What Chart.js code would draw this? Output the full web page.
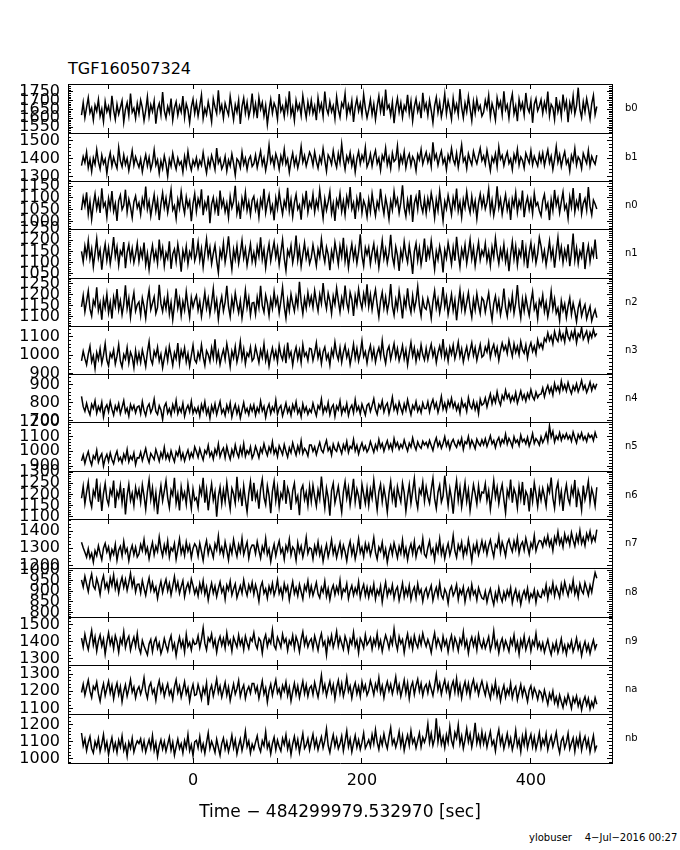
<!DOCTYPE html>
<html>
<head>
<meta charset="utf-8">
<script src="https://cdn.jsdelivr.net/npm/chart.js@4.4.1/dist/chart.umd.min.js"></script>
<style>
html, body { margin: 0; padding: 0; background: #fff; }
#page { position: relative; width: 680px; height: 850px; overflow: hidden; font-family: "DejaVu Sans", sans-serif; }
#page canvas { position: absolute; left: 0; }
.txt { position: absolute; white-space: nowrap; color: #000; line-height: normal; }
</style>
</head>
<body>
<div id="page">
  <div class="txt" style="left:68px; top:59px; font-size:16px;">TGF160507324</div>
  <div class="txt" style="left:529px; top:832px; font-size:10px;">ylobuser&nbsp;&nbsp;&nbsp;&nbsp;4−Jul−2016 00:27</div>
</div>
<script>
// light curves, one 2 s bin per value, starting at t = -132 s
var binStart = -132;
var binWidth = 2;

var rateB0 = [
 1618,1689,1603,1662,1717,1631,1659,1590,1674,1640,1706,1612,1653,1581,1695,1637,1668,1609,1728,1646,1594,1679,1623,1661,1700,1578,1650,1688,1615,1741,1634,1657,1599,1683,
 1626,1703,1660,1587,1645,1722,1611,1676,1638,1698,1569,1652,1684,1620,1749,1643,1602,1667,1631,1712,1590,1659,1694,1617,1671,1636,1726,1605,1682,1648,1575,1664,1709,1628,
 1687,1612,1670,1733,1598,1656,1621,1693,1644,1580,1711,1663,1627,1759,1640,1675,1601,1685,1649,1619,1724,1658,1592,1677,1635,1702,1568,1666,1715,1630,1690,1609,1654,1741,
 1625,1681,1600,1718,1652,1690,1614,1673,1564,1645,1707,1629,1686,1659,1595,1738,1641,1669,1610,1697,1637,1754,1620,1664,1587,1701,1648,1679,1616,1728,1661,1604,1692,1634,
 1702,1628,1669,1589,1716,1645,1683,1611,1752,1656,1624,1694,1638,1671,1597,1722,1650,1606,1687,1663,1740,1615,1676,1633,1699,1579,1664,1711,1641,1685,1620,1735,1658,1603,
 1649,1706,1622,1681,1593,1668,1727,1640,1699,1613,1764,1655,1675,1618,1692,1572,1661,1714,1634,1688,1606,1672,1645,1733,1627,1696,1585,1666,1710,1639,1679,1600,1745,1652,
 1684,1617,1703,1644,1575,1671,1719,1632,1690,1608,1659,1738,1626,1697,1651,1594,1713,1640,1680,1620,1766,1662,1603,1686,1637,1724,1655,1586,1694,1629,1707,1648,1672,1612,
 1634,1701,1658,1729,1610,1684,1645,1590,1716,1663,1695,1621,1754,1649,1677,1601,1690,1738,1626,1670,1583,1708,1652,1687,1619,1744,1661,1635,1698,1574,1680,1712,1643,1668,
 1705,1628,1691,1647,1752,1615,1679,1660,1593,1720,1638,1684,1611,1735,1656,1697,1578,1688,1642,1727,1625,1671,1774,1650,1604,1693,1636,1712,1659,1597,1683,1730,1621,1667
];
var rateB1 = [
 1361,1412,1378,1437,1350,1396,1328,1404,1369,1451,1383,1342,1419,1372,1397,1316,1390,1433,1359,1408,1374,1346,1462,1388,1355,1421,1367,1401,1334,1386,1445,1363,1410,1379,
 1352,1398,1327,1381,1422,1360,1407,1339,1376,1449,1364,1393,1318,1387,1345,1416,1371,1302,1395,1358,1430,1378,1341,1403,1366,1384,1325,1412,1357,1441,1373,1336,1391,1362,
 1405,1347,1389,1363,1434,1371,1320,1396,1355,1418,1382,1339,1459,1376,1401,1343,1367,1413,1331,1392,1359,1426,1374,1308,1399,1385,1350,1437,1368,1402,1340,1394,1414,1357,
 1372,1420,1351,1397,1443,1366,1404,1335,1389,1475,1380,1409,1357,1427,1394,1342,1415,1376,1452,1369,1399,1324,1386,1431,1363,1406,1348,1392,1468,1381,1417,1359,1398,1436,
 1412,1363,1438,1385,1347,1409,1376,1456,1392,1330,1421,1401,1369,1445,1387,1352,1429,1378,1482,1396,1340,1414,1383,1434,1361,1407,1325,1399,1440,1371,1418,1389,1463,1354,
 1380,1427,1359,1412,1446,1373,1403,1336,1419,1391,1460,1366,1408,1345,1431,1384,1397,1471,1355,1415,1378,1439,1349,1400,1426,1362,1411,1389,1333,1423,1394,1452,1370,1406,
 1436,1381,1418,1357,1492,1399,1425,1364,1410,1444,1375,1403,1339,1421,1388,1457,1396,1368,1430,1352,1413,1478,1384,1407,1346,1428,1393,1366,1441,1401,1372,1417,1459,1390,
 1415,1370,1447,1392,1334,1408,1381,1428,1356,1466,1397,1419,1362,1405,1437,1374,1399,1340,1423,1387,1453,1364,1410,1391,1348,1431,1402,1376,1444,1367,1413,1385,1359,1426,
 1383,1431,1362,1408,1449,1377,1414,1340,1396,1468,1380,1422,1356,1405,1439,1371,1395,1332,1418,1386,1457,1365,1410,1392,1345,1429,1401,1374,1446,1360,1413,1388,1369,1420
];
var rateN0 = [
 1048,1103,1066,1124,1031,1085,1009,1072,1117,1054,1092,1036,1141,1063,1080,1019,1098,1058,1129,1044,1076,1002,1089,1112,1051,1069,1135,1040,1094,1061,1016,1083,1108,1057,
 1079,1030,1097,1065,1148,1052,1086,1023,1070,1114,1045,1091,1006,1074,1121,1059,1099,1038,1082,1135,1049,1067,1013,1093,1056,1127,1071,1034,1104,1062,1087,1001,1075,1118,
 1043,1096,1068,1137,1027,1081,1055,1110,993,1073,1102,1046,1088,1024,1131,1064,1092,1041,1077,1018,1106,1058,1085,1152,1035,1072,1011,1098,1060,1123,1047,1084,1029,1090,
 1107,1050,1083,1019,1094,1063,1139,1037,1078,1111,1042,1069,1005,1099,1056,1125,1074,1031,1087,1060,1143,1045,1093,1021,1080,1115,1052,1070,1008,1101,1066,1130,1039,1082,
 1061,1116,1040,1089,1057,1134,1072,1014,1095,1048,1083,1127,1035,1076,1002,1091,1064,1119,1043,1086,1028,1105,1069,1146,1053,1079,1011,1097,1058,1124,1037,1088,1066,1020,
 1093,1041,1118,1067,1025,1084,1056,1139,1074,1032,1100,1063,1010,1087,1049,1127,1071,1096,1036,1081,1154,1060,1022,1090,1045,1113,998,1077,1105,1052,1133,1068,1039,1095,
 1035,1098,1057,1120,1080,1016,1092,1047,1128,1066,1003,1085,1054,1111,1073,1029,1100,1061,1140,1044,1082,1019,1094,1058,1126,1070,1037,1106,1050,1087,1012,1078,1117,1063,
 1102,1053,1081,1137,1042,1090,1026,1069,1149,1058,1095,1031,1076,1114,1048,1084,1007,1097,1065,1122,1039,1088,1060,1131,1018,1074,1103,1051,1091,1034,1119,1067,1080,1045,
 1024,1088,1115,1055,1078,1006,1093,1046,1134,1069,1099,1037,1083,1125,1052,1071,1014,1104,1062,1142,1041,1086,1058,1121,1033,1077,1097,1049,1146,1065,1028,1091,1074,1053
];
var rateN1 = [
 1150,1103,1174,1129,1198,1117,1161,1082,1143,1206,1121,1157,1068,1139,1183,1110,1165,1095,1147,1214,1126,1170,1089,1152,1134,1192,1075,1145,1180,1114,1163,1100,1137,1186,
 1106,1158,1123,1189,1091,1141,1069,1132,1176,1113,1150,1097,1203,1127,1166,1085,1144,1119,1195,1072,1138,1160,1104,1181,1130,1059,1153,1116,1172,1093,1148,1124,1210,1108,
 1137,1191,1111,1162,1080,1145,1205,1126,1168,1094,1140,1178,1109,1055,1155,1122,1187,1101,1149,1217,1131,1070,1158,1115,1174,1096,1143,1199,1120,1161,1087,1135,1182,1105,
 1145,1098,1171,1128,1213,1114,1159,1077,1140,1184,1107,1152,1192,1123,1167,1090,1146,1202,1118,1064,1154,1130,1176,1099,1142,1221,1111,1164,1083,1137,1188,1119,1156,1095,
 1122,1179,1133,1086,1160,1125,1204,1141,1102,1169,1136,1066,1151,1113,1190,1144,1092,1173,1127,1211,1106,1158,1078,1139,1183,1117,1162,1097,1148,1226,1129,1085,1166,1135,
 1168,1094,1146,1184,1112,1157,1079,1138,1199,1118,1160,1099,1143,1224,1126,1088,1170,1132,1063,1153,1115,1193,1137,1101,1176,1121,1049,1149,1186,1110,1164,1091,1140,1207,
 1103,1162,1127,1197,1135,1070,1151,1113,1173,1131,1056,1156,1120,1188,1144,1093,1167,1108,1215,1139,1081,1160,1124,1179,1097,1147,1202,1117,1166,1086,1141,1190,1112,1153,
 1132,1185,1109,1150,1087,1169,1124,1208,1142,1095,1159,1121,1181,1104,1147,1062,1136,1194,1116,1173,1090,1154,1128,1201,1107,1163,1075,1144,1189,1119,1167,1098,1139,1212,
 1174,1114,1153,1090,1140,1196,1121,1161,1077,1148,1212,1126,1169,1100,1155,1118,1182,1084,1145,1230,1111,1165,1096,1150,1124,1191,1071,1137,1176,1105,1158,1129,1203,1116
];
var rateN2 = [
 1145,1197,1123,1170,1218,1136,1104,1175,1152,1235,1128,1163,1087,1181,1141,1204,1119,1166,1092,1189,1149,1227,1133,1174,1110,1158,1244,1138,1185,1099,1167,1210,1126,1155,
 1168,1107,1186,1148,1094,1173,1222,1133,1162,1191,1115,1143,1246,1160,1124,1179,1137,1201,1113,1165,1087,1154,1229,1140,1182,1106,1170,1131,1215,1150,1098,1188,1144,1176,
 1197,1130,1171,1102,1154,1212,1139,1182,1113,1164,1228,1134,1176,1089,1155,1193,1126,1167,1241,1147,1101,1184,1135,1208,1159,1119,1173,1095,1150,1221,1142,1187,1108,1163,
 1165,1112,1189,1142,1241,1151,1121,1198,1163,1105,1180,1138,1215,1155,1186,1117,1172,1234,1146,1094,1177,1129,1203,1160,1125,1192,1148,1260,1168,1114,1183,1139,1210,1157,
 1192,1143,1219,1169,1127,1202,1161,1254,1178,1136,1208,1172,1115,1195,1157,1231,1174,1122,1187,1149,1243,1165,1130,1211,1180,1104,1196,1153,1226,1171,1138,1205,1162,1248,
 1147,1201,1133,1186,1224,1154,1100,1173,1212,1140,1189,1125,1167,1249,1149,1108,1178,1137,1218,1161,1093,1183,1145,1230,1156,1119,1196,1134,1172,1238,1151,1104,1181,1143,
 1134,1184,1151,1094,1169,1218,1140,1181,1118,1163,1236,1146,1190,1111,1155,1202,1129,1176,1084,1158,1221,1137,1193,1123,1166,1210,1142,1098,1179,1132,1205,1153,1115,1187,
 1174,1122,1167,1209,1137,1086,1160,1194,1131,1175,1109,1153,1229,1142,1102,1171,1135,1198,1116,1163,1245,1149,1095,1180,1127,1190,1144,1106,1168,1214,1133,1158,1092,1176,
 1150,1199,1124,1165,1101,1145,1216,1136,1181,1116,1140,1083,1173,1128,1159,1097,1147,1186,1111,1162,1125,1078,1139,1170,1104,1134,1155,1091,1121,1147,1082,1110,1132,1096
];
var rateN3 = [
 969,1021,982,948,1006,1049,964,997,927,1014,976,1035,955,1000,1063,973,941,1010,987,1028,952,994,1057,968,935,1003,979,1041,958,1016,990,932,1024,961,
 1011,960,1028,986,938,1017,1074,979,952,1022,993,1043,967,1005,932,985,1032,970,1048,999,945,1013,981,1066,956,1026,990,1039,963,1009,940,998,1054,975,
 958,1015,981,1055,990,944,1024,1003,966,1040,987,1086,972,1018,949,996,1030,977,1061,1008,938,1021,985,1047,962,1006,1074,980,1033,953,1011,993,1043,969,
 983,1046,1004,959,1027,988,1061,970,1014,941,997,1039,982,1022,964,1052,1001,975,1034,956,1069,990,1017,946,1008,1043,978,1026,960,1057,995,1013,972,1037,
 1033,971,1012,1067,985,1025,954,1018,1044,979,1006,946,1029,994,1071,1007,975,1040,961,1015,1053,988,1023,950,1001,1060,983,1036,968,1010,1078,992,1019,957,
 1016,1053,983,1032,962,1010,1041,990,1079,998,955,1024,1048,977,1019,1063,989,1035,970,1006,1052,980,1028,947,1013,1069,995,1039,966,1021,985,1056,1002,974,
 1037,976,1022,1060,995,1031,960,1014,1049,999,1088,986,1027,968,1042,1005,1055,981,1019,1071,992,1034,963,1010,1046,984,1025,1067,998,1040,972,1016,1058,989,
 999,1044,1017,1070,987,1032,1058,1003,1041,972,1024,1066,1027,1051,1009,1080,1036,994,1062,1015,1047,1001,1074,1030,1011,1055,985,1039,1068,1020,1049,1007,1083,1042,
 1063,1035,1092,1074,1121,1080,1105,1062,1129,1091,1075,1134,1085,1113,1071,1146,1102,1082,1125,1094,1139,1068,1117,1099,1151,1087,1108,1131,1077,1122,1096,1140,1104,1119
];
var rateN4 = [
 835,778,752,797,759,733,791,768,811,742,779,755,802,721,770,788,749,806,764,731,783,757,795,738,774,812,746,769,725,790,760,784,744,776,
 782,738,806,757,728,775,793,745,769,820,751,735,784,760,706,778,798,742,767,731,789,754,813,739,772,748,796,724,763,786,750,808,741,770,
 744,774,726,789,755,805,737,768,713,782,749,794,734,771,807,742,764,729,786,752,799,720,761,790,739,775,715,758,801,746,768,733,784,753,
 787,730,772,747,809,754,779,718,767,792,739,775,752,815,736,769,784,727,761,798,745,772,730,788,757,805,741,766,722,793,750,776,735,763,
 746,797,759,727,784,765,820,742,777,753,801,734,772,789,724,781,760,810,738,774,751,795,729,768,786,744,817,756,779,737,792,762,731,785,
 795,751,784,822,763,735,790,769,811,748,782,798,739,779,831,761,788,746,803,770,741,793,758,816,772,733,785,764,806,752,778,744,798,767,
 767,806,748,792,818,771,799,746,784,835,764,797,755,810,780,825,773,801,759,789,742,815,776,794,752,828,783,767,808,761,797,740,819,786,
 795,827,776,815,849,794,833,802,861,813,787,841,818,870,826,848,805,836,812,857,798,831,866,820,845,809,852,825,873,834,816,859,829,847,
 848,882,833,871,896,856,885,844,908,868,892,859,921,873,899,865,913,877,851,894,870,906,862,889,925,876,897,858,883,915,869,901,880,907
];
var rateN5 = [
 935,975,918,964,998,941,907,970,949,1007,926,961,984,900,952,979,931,989,944,916,968,1001,937,958,922,981,947,1012,929,966,943,990,910,957,
 954,994,937,978,1019,959,924,986,966,945,1012,974,932,991,957,1027,950,983,941,1004,962,929,997,970,1021,948,987,935,976,1009,952,990,960,1030,
 999,959,1018,976,941,1006,985,1040,967,995,948,1014,980,1049,963,1000,1022,957,1033,984,946,1011,972,1043,990,960,1027,978,1052,966,1005,983,1030,954,
 982,1034,999,957,1021,991,1052,1005,972,1029,996,1065,984,1017,965,1038,1009,978,1046,1000,961,1024,990,1058,1013,975,1036,994,1071,986,1020,1002,969,1043,
 1043,1000,1030,978,1022,1061,1009,991,1039,1074,1005,1028,976,1049,1014,1000,1055,1021,985,1046,1012,1067,993,1034,1019,1080,1003,1041,982,1026,1058,1010,1037,996,
 1018,1067,1030,994,1045,1012,1080,1026,1054,1001,1041,1072,1019,1050,1008,1086,1033,1060,1015,1047,1024,1077,1037,1003,1056,1029,1091,1042,1010,1064,1035,1020,1069,1044,
 1061,1028,1074,1040,1006,1059,1092,1034,1065,1021,1054,1099,1037,1069,1016,1060,1081,1047,1027,1072,1044,1089,1013,1066,1052,1101,1031,1075,1049,1018,1083,1055,1038,1078,
 1046,1085,1033,1068,1106,1051,1074,1026,1071,1094,1042,1080,1057,1117,1049,1089,1064,1031,1099,1060,1077,1040,1110,1066,1083,1052,1096,1037,1072,1121,1055,1087,1069,1043,
 1099,1060,1086,1123,1069,1174,1097,1136,1064,1104,1082,1127,1075,1112,1089,1121,1084,1107,1070,1131,1093,1058,1115,1088,1126,1079,1102,1067,1118,1094,1109,1073,1128,1090
];
var rateN6 = [
 1183,1236,1158,1210,1255,1176,1144,1217,1192,1271,1167,1226,1126,1204,1249,1180,1154,1222,1198,1262,1139,1213,1187,1240,1163,1229,1110,1195,1245,1173,1206,1151,1231,1189,
 1222,1165,1243,1194,1133,1213,1266,1178,1229,1149,1207,1112,1188,1240,1171,1215,1262,1185,1141,1219,1196,1274,1160,1203,1128,1234,1182,1209,1156,1247,1193,1137,1224,1175,
 1185,1142,1230,1200,1274,1163,1221,1129,1196,1247,1174,1212,1100,1190,1233,1157,1219,1168,1252,1188,1135,1227,1203,1161,1279,1182,1214,1148,1238,1176,1122,1205,1258,1170,
 1252,1179,1208,1136,1224,1268,1187,1155,1239,1195,1116,1214,1259,1172,1231,1145,1205,1183,1264,1158,1228,1199,1131,1216,1250,1168,1193,1107,1221,1241,1177,1210,1150,1235,
 1169,1241,1191,1148,1220,1180,1280,1203,1140,1228,1186,1105,1217,1250,1162,1198,1236,1174,1121,1211,1257,1184,1231,1153,1206,1270,1166,1224,1192,1134,1245,1201,1159,1227,
 1152,1223,1183,1264,1194,1131,1212,1246,1168,1229,1184,1121,1205,1257,1175,1218,1142,1235,1197,1166,1251,1208,1125,1190,1243,1160,1215,1271,1179,1139,1222,1201,1255,1170,
 1233,1189,1160,1222,1272,1181,1137,1210,1241,1166,1193,1284,1215,1150,1227,1182,1114,1206,1262,1174,1231,1144,1198,1253,1169,1220,1128,1187,1244,1204,1157,1238,1176,1211,
 1206,1248,1173,1216,1134,1195,1261,1187,1231,1159,1210,1244,1177,1118,1219,1190,1267,1163,1225,1199,1140,1236,1181,1256,1152,1213,1194,1124,1229,1170,1251,1203,1146,1221,
 1175,1227,1192,1147,1236,1209,1276,1184,1139,1222,1254,1167,1213,1126,1201,1243,1182,1158,1230,1197,1265,1143,1218,1188,1131,1240,1176,1211,1259,1164,1225,1196,1149,1232
];
var rateN7 = [
 1335,1303,1276,1248,1297,1244,1271,1219,1286,1257,1314,1271,1233,1300,1328,1278,1307,1241,1292,1265,1322,1230,1288,1311,1256,1339,1274,1298,1227,1283,1316,1262,1305,1249,
 1266,1321,1287,1350,1273,1304,1239,1291,1333,1262,1312,1281,1365,1298,1255,1319,1276,1342,1249,1302,1284,1327,1236,1293,1354,1270,1309,1258,1336,1283,1317,1245,1299,1326,
 1308,1254,1329,1280,1228,1302,1344,1267,1315,1284,1246,1325,1291,1371,1274,1306,1259,1337,1288,1232,1313,1270,1349,1295,1252,1320,1279,1358,1263,1301,1335,1242,1296,1318,
 1317,1269,1338,1287,1243,1310,1278,1356,1263,1295,1222,1282,1323,1256,1305,1342,1273,1299,1236,1315,1284,1351,1261,1307,1290,1229,1332,1276,1312,1248,1294,1363,1270,1303,
 1296,1238,1313,1272,1336,1261,1302,1224,1279,1321,1250,1293,1349,1268,1308,1245,1290,1331,1257,1316,1280,1226,1299,1340,1265,1311,1237,1286,1354,1274,1305,1251,1327,1283,
 1322,1259,1299,1361,1276,1237,1306,1282,1334,1253,1295,1218,1277,1315,1263,1330,1289,1244,1310,1271,1347,1258,1301,1233,1292,1325,1268,1339,1249,1297,1313,1279,1356,1265,
 1248,1303,1342,1269,1297,1232,1318,1278,1355,1265,1310,1241,1292,1328,1260,1301,1374,1284,1247,1320,1289,1336,1254,1306,1271,1349,1293,1226,1314,1281,1333,1262,1299,1343,
 1287,1329,1264,1314,1348,1293,1250,1322,1305,1367,1276,1335,1300,1255,1326,1352,1309,1280,1341,1296,1361,1271,1318,1337,1289,1358,1311,1266,1330,1302,1373,1284,1321,1345,
 1341,1309,1358,1325,1373,1314,1346,1286,1364,1331,1395,1324,1355,1307,1382,1338,1366,1319,1390,1347,1312,1375,1335,1402,1328,1361,1316,1384,1351,1398,1337,1369,1343,1408
];
var rateN8 = [
 954,921,971,934,899,949,982,925,910,960,931,886,945,974,916,939,902,963,928,977,912,948,893,937,966,919,955,904,941,985,923,958,897,933,
 934,893,951,914,881,928,963,906,941,898,920,867,913,947,895,930,956,903,937,884,925,969,909,943,890,922,950,876,916,939,901,958,927,889,
 915,878,937,900,950,887,921,859,904,939,892,924,875,913,944,896,918,863,929,906,948,883,911,935,870,898,926,891,953,909,880,930,902,942,
 886,931,900,853,920,943,891,912,868,923,895,938,882,909,954,890,915,872,936,901,925,860,907,946,889,917,879,932,898,864,927,904,949,884,
 924,881,910,941,888,869,918,896,947,877,913,861,906,929,884,921,893,952,875,911,899,936,866,903,927,882,915,890,944,871,908,932,880,919,
 872,916,887,934,864,907,884,925,849,902,943,878,911,890,930,867,905,921,858,896,938,874,913,882,927,861,900,919,870,935,889,908,853,897,
 915,873,902,927,857,894,918,876,938,883,865,910,891,844,904,923,880,899,931,862,908,887,920,851,896,914,871,932,885,903,859,917,890,868,
 863,900,849,887,912,868,837,892,859,916,875,852,896,865,905,878,917,846,884,909,861,893,838,881,903,870,914,855,889,872,907,848,898,876,
 871,906,885,930,866,914,892,939,879,921,898,871,932,893,944,909,880,926,901,952,887,918,873,935,904,890,941,913,882,928,896,947,988,962
];
var rateN9 = [
 1421,1369,1444,1392,1353,1412,1466,1380,1429,1344,1405,1440,1375,1416,1326,1397,1453,1384,1422,1359,1436,1401,1338,1418,1387,1459,1366,1409,1432,1350,1394,1427,1372,1448,
 1365,1333,1408,1375,1348,1322,1387,1413,1341,1399,1423,1360,1393,1330,1364,1419,1378,1345,1402,1436,1357,1390,1318,1381,1427,1369,1406,1339,1444,1372,1396,1351,1411,1384,
 1390,1435,1365,1414,1482,1390,1351,1423,1402,1446,1373,1411,1338,1400,1431,1379,1419,1363,1452,1385,1408,1344,1426,1397,1368,1440,1382,1415,1354,1433,1393,1360,1421,1404,
 1453,1386,1359,1421,1404,1332,1410,1441,1372,1415,1391,1470,1377,1356,1427,1400,1367,1444,1395,1418,1348,1407,1384,1437,1362,1429,1398,1341,1412,1458,1381,1423,1369,1401,
 1417,1360,1434,1393,1349,1411,1449,1378,1402,1322,1419,1384,1438,1367,1405,1461,1375,1426,1390,1355,1432,1399,1343,1414,1386,1455,1371,1408,1334,1420,1397,1363,1441,1382,
 1399,1424,1357,1414,1380,1447,1368,1408,1343,1396,1439,1405,1361,1422,1385,1475,1396,1352,1430,1389,1413,1336,1402,1446,1374,1417,1358,1435,1391,1366,1428,1383,1450,1404,
 1372,1413,1382,1336,1404,1452,1373,1418,1388,1354,1431,1379,1409,1340,1400,1437,1361,1423,1394,1347,1415,1386,1458,1369,1407,1333,1396,1428,1376,1419,1351,1441,1389,1364,
 1411,1362,1394,1430,1349,1387,1463,1368,1402,1334,1391,1419,1359,1406,1376,1342,1415,1383,1440,1356,1398,1327,1410,1372,1433,1353,1389,1421,1346,1404,1379,1449,1365,1396,
 1353,1393,1338,1377,1412,1359,1324,1384,1350,1399,1335,1372,1418,1345,1380,1327,1386,1362,1405,1341,1374,1421,1355,1389,1318,1368,1401,1347,1383,1330,1375,1410,1358,1386
];
var rateNa = [
 1193,1241,1178,1222,1265,1201,1164,1229,1210,1253,1186,1142,1204,1244,1175,1218,1259,1190,1233,1157,1213,1248,1181,1227,1139,1199,1238,1172,1216,1268,1195,1225,1162,1207,
 1227,1183,1218,1278,1198,1160,1227,1250,1189,1213,1148,1221,1262,1196,1235,1171,1212,1244,1180,1207,1154,1226,1267,1192,1230,1166,1209,1255,1185,1219,1143,1203,1240,1176,
 1181,1239,1200,1155,1222,1187,1248,1119,1204,1234,1173,1217,1271,1192,1230,1166,1208,1251,1178,1224,1146,1197,1243,1184,1215,1262,1170,1211,1236,1159,1205,1228,1189,1246,
 1246,1195,1227,1159,1209,1260,1184,1219,1137,1204,1241,1177,1224,1266,1190,1215,1168,1233,1201,1254,1176,1222,1143,1198,1247,1183,1230,1163,1212,1258,1187,1236,1171,1218,
 1232,1182,1251,1207,1166,1226,1293,1201,1240,1175,1219,1258,1194,1237,1157,1222,1263,1189,1245,1172,1214,1281,1199,1230,1161,1217,1249,1186,1228,1170,1255,1204,1236,1178,
 1204,1261,1225,1180,1243,1208,1279,1192,1232,1163,1220,1256,1203,1241,1186,1229,1284,1197,1238,1171,1216,1265,1190,1247,1158,1224,1253,1182,1234,1270,1200,1245,1176,1222,
 1240,1191,1251,1213,1176,1233,1298,1208,1248,1183,1230,1265,1201,1243,1169,1228,1259,1196,1274,1187,1237,1162,1221,1256,1194,1245,1173,1234,1268,1205,1239,1180,1226,1260,
 1215,1178,1242,1197,1159,1229,1190,1254,1172,1214,1145,1200,1235,1167,1212,1183,1247,1163,1208,1228,1151,1196,1239,1174,1221,1187,1141,1206,1232,1169,1218,1192,1152,1203,
 1191,1149,1206,1166,1124,1187,1155,1202,1133,1166,1118,1178,1139,1106,1160,1128,1181,1145,1101,1163,1134,1172,1114,1150,1092,1141,1168,1120,1157,1097,1138,1110,1162,1125
];
var rateNb = [
 1151,1076,1115,1048,1096,1130,1061,1035,1101,1068,1119,1043,1087,1142,1057,1098,1026,1081,1124,1053,1092,1037,1109,1070,1133,1049,1084,1016,1097,1062,1121,1040,1078,1105,
 1090,1117,1055,1104,1040,1079,1112,1063,1136,1049,1093,1014,1076,1111,1058,1101,1044,1085,1127,1051,1097,1022,1070,1115,1060,1089,1034,1106,1067,1142,1047,1082,1019,1099,
 1108,1065,1130,1051,1087,1033,1095,1152,1060,1102,1074,1038,1114,1067,1021,1089,1121,1056,1099,1042,1083,1138,1064,1110,1029,1077,1116,1048,1093,1161,1071,1104,1035,1086,
 1056,1098,1134,1070,1042,1105,1077,1157,1063,1094,1030,1090,1126,1054,1109,1071,1046,1119,1083,1140,1058,1100,1025,1087,1131,1066,1112,1039,1095,1148,1061,1080,1118,1052,
 1100,1144,1069,1113,1053,1092,1129,1065,1106,1175,1078,1037,1097,1140,1074,1119,1059,1088,1133,1047,1103,1164,1072,1116,1041,1091,1137,1068,1110,1055,1096,1150,1063,1085,
 1111,1072,1142,1089,1170,1098,1055,1122,1082,1146,1094,1061,1128,1182,1087,1115,1068,1105,1159,1076,1134,1050,1100,1139,1079,1163,1093,1119,1064,1108,1151,1071,1125,1097,
 1131,1204,1096,1149,1079,1118,1237,1100,1164,1085,1127,1066,1140,1095,1189,1107,1073,1153,1121,1198,1088,1134,1061,1111,1176,1099,1145,1070,1123,1210,1092,1137,1081,1158,
 1090,1139,1069,1117,1160,1082,1107,1046,1124,1171,1087,1130,1060,1102,1148,1078,1120,1053,1095,1166,1074,1111,1042,1133,1084,1155,1063,1109,1143,1071,1126,1057,1099,1152,
 1066,1115,1085,1145,1054,1099,1133,1071,1108,1154,1080,1035,1104,1127,1063,1096,1149,1058,1091,1122,1044,1117,1076,1138,1051,1102,1130,1069,1112,1040,1089,1136,1050,1078
];

var panelNames = ['b0','b1','n0','n1','n2','n3','n4','n5','n6','n7','n8','n9','na','nb'];
var series = [rateB0, rateB1, rateN0, rateN1, rateN2, rateN3, rateN4, rateN5, rateN6, rateN7, rateN8, rateN9, rateNa, rateNb];
var yMin = [1516, 1275, 968, 1031, 1058, 897, 692, 866, 1090, 1185, 779, 1262, 1068, 976];
var yMax = [1795, 1544, 1172, 1250, 1277, 1159, 961, 1200, 1305, 1470, 1010, 1547, 1353, 1262];
var yMajorStep = [50, 100, 50, 50, 50, 100, 100, 100, 50, 100, 50, 100, 100, 100];
var yMinorStep = [10, 20, 10, 10, 10, 20, 20, 20, 10, 20, 10, 20, 20, 20];
var xMin = -148, xMax = 496, xStep = 100, xLabelStep = 200;
var xTitle = 'Time − 484299979.532970 [sec]';

// panel frame edges on the page (px)
var panelEdges = [84, 133, 181, 229, 278, 326, 374, 422, 471, 519, 568, 617, 665, 714, 763];
var PAD = 10;
var FONT = '"DejaVu Sans", sans-serif';
var page = document.getElementById('page');

function noPad(s) { s.paddingTop = 0; s.paddingBottom = 0; s.paddingLeft = 0; s.paddingRight = 0; }

function tickAxis(pos, min, max, step, len, border, size) {
  return {
    type: 'linear', position: pos, min: min, max: max, weight: 0,
    ticks: { stepSize: step, includeBounds: false, display: false, autoSkip: false },
    grid: { drawOnChartArea: false, tickLength: len, color: '#000', tickWidth: 1 },
    border: { display: border, color: '#000', width: 1 },
    afterFit: function (s) {
      if (pos === 'top' || pos === 'bottom') s.height = size; else s.width = size;
      noPad(s);
    }
  };
}

series.forEach(function (vals, i) {
  var last = i === series.length - 1;
  var top = panelEdges[i];
  var h = panelEdges[i + 1] - top;
  var bottomH = last ? 60 : 0;
  var H = h + PAD + (last ? bottomH : PAD);
  var cv = document.createElement('canvas');
  cv.width = 680; cv.height = H;
  cv.style.width = '680px'; cv.style.height = H + 'px';
  cv.style.top = (top - PAD) + 'px';
  page.appendChild(cv);

  var pts = vals.map(function (v, k) { return { x: binStart + k * binWidth, y: v }; });

  var xBottom = tickAxis('bottom', xMin, xMax, xStep, -5, true, bottomH);
  xBottom.ticks = {
    stepSize: xStep, includeBounds: false, autoSkip: false, maxRotation: 0,
    display: last, padding: 13, color: '#000', font: { family: FONT, size: 16 },
    callback: function (v) { return v % xLabelStep === 0 ? String(v) : ''; }
  };
  xBottom.title = {
    display: last, text: xTitle, color: '#000',
    font: { family: FONT, size: 17, lineHeight: 1.2 }, padding: { top: 0, bottom: 0 }
  };

  var yLeft = tickAxis('left', yMin[i], yMax[i], yMajorStep[i], -5, true, 68);
  yLeft.weight = 1;
  yLeft.ticks = {
    stepSize: yMajorStep[i], includeBounds: false, autoSkip: false, padding: 13,
    color: '#000', font: { family: FONT, size: 16 },
    callback: function (v) { return String(v); }
  };

  var yName = {
    type: 'linear', position: 'right', weight: 2, min: yMin[i], max: yMax[i],
    afterBuildTicks: function (s) { s.ticks = [{ value: (yMin[i] + yMax[i]) / 2 }]; },
    ticks: { autoSkip: false, padding: 13, color: '#000', font: { family: FONT, size: 10 },
             callback: function () { return panelNames[i]; } },
    grid: { display: false, drawTicks: false },
    border: { display: false },
    afterFit: function (s) { s.width = 68; noPad(s); }
  };

  new Chart(cv, {
    type: 'line',
    data: {
      datasets: [{
        data: pts, xAxisID: 'x', yAxisID: 'y',
        borderColor: '#000', borderWidth: 1.5, pointRadius: 0, tension: 0
      }]
    },
    options: {
      responsive: false, animation: false, events: [],
      layout: { padding: { top: PAD, bottom: last ? 0 : PAD, left: 0, right: 0 } },
      plugins: { legend: { display: false }, tooltip: { enabled: false } },
      scales: {
        x: xBottom,
        xTop: tickAxis('top', xMin, xMax, xStep, -5, true, 0),
        y: yLeft,
        yMinorL: tickAxis('left', yMin[i], yMax[i], yMinorStep[i], -3, false, 0),
        yRight: tickAxis('right', yMin[i], yMax[i], yMajorStep[i], -5, true, 0),
        yMinorR: tickAxis('right', yMin[i], yMax[i], yMinorStep[i], -3, false, 0),
        yName: yName
      }
    }
  });
});
</script>
</body>
</html>
